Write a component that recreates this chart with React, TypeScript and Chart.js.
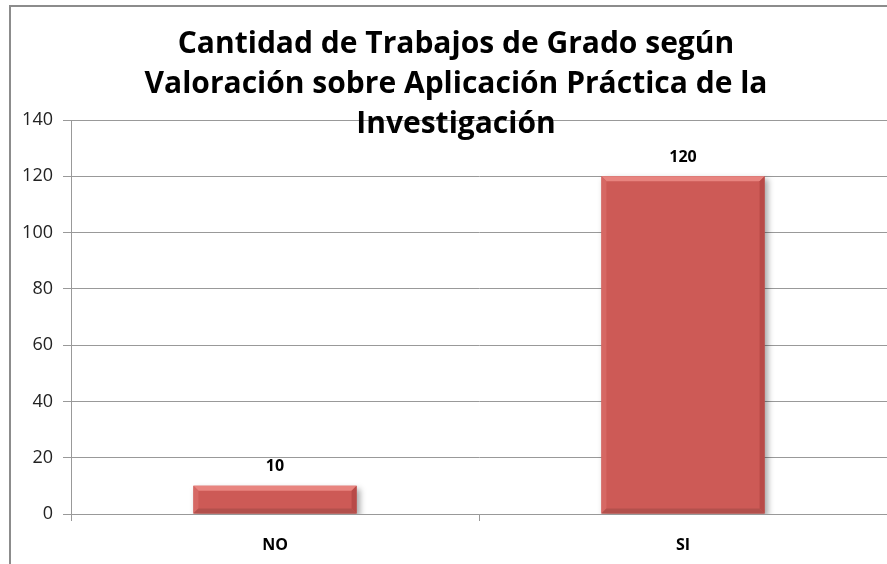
import React, { useEffect, useRef } from "react";
import { Chart, registerables } from "chart.js";

Chart.register(...registerables);

const categories = ["NO", "SI"];
const values = [10, 120];
const titleLines = [
  "Cantidad de Trabajos de Grado según",
  "Valoración sobre Aplicación Práctica de la",
  "Investigación",
];
const yTicks = [0, 20, 40, 60, 80, 100, 120, 140];

const FONT = "'Open Sans', Lato, 'Liberation Sans', sans-serif";

const decorPlugin = {
  id: "decor",
  beforeDraw(chart: any) {
    const ctx = chart.ctx;
    ctx.save();
    ctx.fillStyle = "#fff";
    ctx.fillRect(0, 0, chart.width, chart.height);
    ctx.strokeStyle = "#8c8c8c";
    ctx.lineWidth = 2;
    ctx.beginPath();
    ctx.moveTo(10, chart.height);
    ctx.lineTo(10, 6);
    ctx.lineTo(chart.width, 6);
    ctx.stroke();
    ctx.restore();
  },
  beforeDatasetsDraw(chart: any) {
    const ctx = chart.ctx;
    ctx.save();
    ctx.shadowColor = "rgba(0,0,0,0.35)";
    ctx.shadowBlur = 6;
    ctx.shadowOffsetX = 3;
    ctx.shadowOffsetY = 3;
  },
  afterDatasetsDraw(chart: any) {
    const ctx = chart.ctx;
    ctx.restore();
    const meta = chart.getDatasetMeta(0);
    meta.data.forEach((bar: any, i: number) => {
      const { x, y, base, width } = bar.getProps(["x", "y", "base", "width"], true);
      const l = x - width / 2;
      const r = x + width / 2;
      const t = y;
      const b = base;
      const e = 5;
      ctx.save();
      ctx.fillStyle = "#E8847F";
      ctx.beginPath();
      ctx.moveTo(l, t);
      ctx.lineTo(r, t);
      ctx.lineTo(r - e, t + e);
      ctx.lineTo(l + e, t + e);
      ctx.closePath();
      ctx.fill();
      ctx.fillStyle = "#D66864";
      ctx.beginPath();
      ctx.moveTo(l, t);
      ctx.lineTo(l + e, t + e);
      ctx.lineTo(l + e, b - e);
      ctx.lineTo(l, b);
      ctx.closePath();
      ctx.fill();
      ctx.fillStyle = "#B84A47";
      ctx.beginPath();
      ctx.moveTo(r, t);
      ctx.lineTo(r - e, t + e);
      ctx.lineTo(r - e, b - e);
      ctx.lineTo(r, b);
      ctx.closePath();
      ctx.fill();
      ctx.fillStyle = "#B3504C";
      ctx.beginPath();
      ctx.moveTo(l, b);
      ctx.lineTo(l + e, b - e);
      ctx.lineTo(r - e, b - e);
      ctx.lineTo(r, b);
      ctx.closePath();
      ctx.fill();
      ctx.fillStyle = "#000";
      ctx.font = `bold 16px ${FONT}`;
      ctx.textAlign = "center";
      ctx.textBaseline = "bottom";
      ctx.fillText(String(values[i]), x, t - 11);
      ctx.restore();
    });
  },
  afterDraw(chart: any) {
    const ctx = chart.ctx;
    ctx.save();
    ctx.fillStyle = "#000";
    ctx.font = `bold 30px ${FONT}`;
    ctx.textAlign = "center";
    ctx.textBaseline = "middle";
    titleLines.forEach((line, i) => {
      ctx.fillText(line, 456, 44 + i * 40);
    });
    ctx.restore();
  },
};

export default function App() {
  const ref = useRef<HTMLCanvasElement>(null);
  useEffect(() => {
    if (!ref.current) return;
    const chart = new Chart(ref.current, {
      type: "bar",
      data: {
        labels: categories,
        datasets: [
          {
            data: values,
            backgroundColor: "#CD5A56",
            borderWidth: 0,
            categoryPercentage: 1,
            barPercentage: 0.4,
          },
        ],
      },
      options: {
        responsive: false,
        animation: false,
        events: [],
        layout: { padding: { top: 120, left: 0, right: 0, bottom: 0 } },
        plugins: {
          legend: { display: false },
          title: { display: false },
          tooltip: { enabled: false },
        },
        scales: {
          x: {
            offset: true,
            grid: {
              offset: true,
              drawOnChartArea: false,
              drawTicks: true,
              tickLength: 7,
              color: "#999",
            },
            border: { display: true, color: "#999" },
            ticks: {
              padding: 15,
              color: "#000",
              font: { family: FONT, size: 16, weight: "bold" },
            },
            afterFit(scale: any) {
              scale.height = 50;
            },
          },
          y: {
            min: 0,
            max: 140,
            afterBuildTicks(scale: any) {
              scale.ticks = yTicks.map((v) => ({ value: v }));
            },
            grid: { color: "#999", tickLength: 8 },
            border: { display: true, color: "#999" },
            ticks: {
              padding: 10,
              color: "#222",
              font: { family: FONT, size: 18 },
            },
            afterFit(scale: any) {
              scale.width = 71;
            },
          },
        },
      },
      plugins: [decorPlugin],
    } as any);
    return () => chart.destroy();
  }, []);
  return (
    <div style={{ position: "absolute", left: 0, top: 0, width: 887, height: 564 }}>
      <canvas ref={ref} width={887} height={564} style={{ display: "block" }} />
    </div>
  );
}
